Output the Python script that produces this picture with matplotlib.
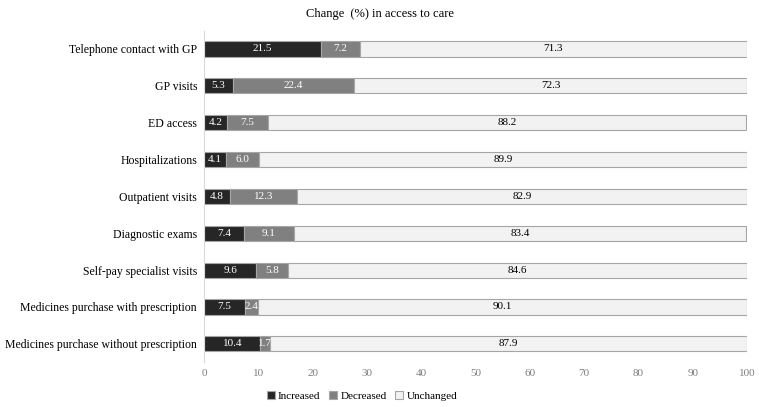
import numpy as np
import matplotlib
matplotlib.use("Agg")
import matplotlib.pyplot as plt

plt.rcParams['font.family'] = ['Liberation Serif', 'DejaVu Serif']

categories = [
    "Telephone contact with GP",
    "GP visits",
    "ED access",
    "Hospitalizations",
    "Outpatient visits",
    "Diagnostic exams",
    "Self-pay specialist visits",
    "Medicines purchase with prescription",
    "Medicines purchase without prescription",
]
increased = [21.5, 5.3, 4.2, 4.1, 4.8, 7.4, 9.6, 7.5, 10.4]
decreased = [7.2, 22.4, 7.5, 6.0, 12.3, 9.1, 5.8, 2.4, 1.7]
unchanged = [71.3, 72.3, 88.2, 89.9, 82.9, 83.4, 84.6, 90.1, 87.9]

series = [
    ("Increased", increased, "#262626", "white"),
    ("Decreased", decreased, "#808080", "white"),
    ("Unchanged", unchanged, "#f2f2f2", "black"),
]

fig = plt.figure(figsize=(7.59, 4.07), dpi=100)
ax = fig.add_axes([0.2688, 0.110, 0.7154, 0.815])

y = np.arange(len(categories))
left = np.zeros(len(categories))
for name, vals, col, tcol in series:
    bars = ax.barh(y, vals, left=left, height=0.41, color=col,
                   edgecolor="#a6a6a6", linewidth=0.8, label=name)
    for b, v in zip(bars, vals):
        ax.text(b.get_x() + b.get_width() / 2, b.get_y() + b.get_height() / 2,
                f"{v:.1f}", ha="center", va="center", color=tcol, fontsize=8)
    left += np.array(vals)

ax.set_yticks(y)
ax.set_yticklabels(categories, fontsize=8.5)
ax.set_ylim(len(categories) - 0.5, -0.5)
ax.set_xlim(0, 100)
ax.set_xticks(np.arange(0, 101, 10))
ax.tick_params(axis="x", length=0, labelsize=8, labelcolor="#7f7f7f", pad=5)
ax.tick_params(axis="y", length=0, pad=5)
for s in ["top", "right", "bottom"]:
    ax.spines[s].set_visible(False)
ax.spines["left"].set_color("#d9d9d9")

fig.text(0.5, 0.965, "Change  (%) in access to care", ha="center", va="center", fontsize=9)

fig.legend(loc="center", bbox_to_anchor=(0.477, 0.027), ncol=3, frameon=False,
           fontsize=8, handlelength=0.7, handleheight=0.7, handletextpad=0.3,
           columnspacing=0.8)

fig.savefig("out.png", dpi=100)
